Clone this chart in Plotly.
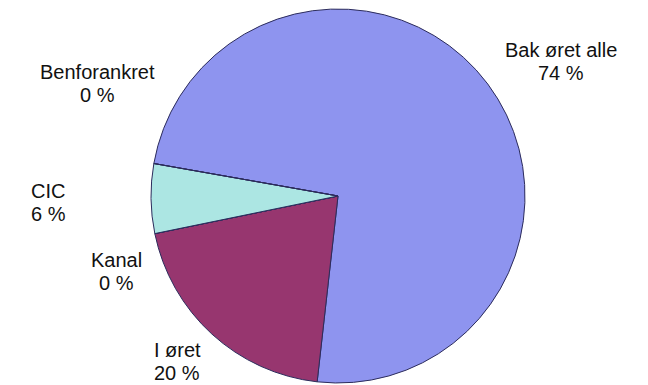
import plotly.graph_objects as go

# page body has an 8px margin; build the figure for the visible area
OFF = 8
W, H = 648 - OFF, 385 - OFF

# data
categories = ["Bak øret alle", "I øret", "Kanal", "CIC", "Benforankret"]
shares = [74, 20, 0, 6, 0]
slice_colors = ["#8e94ef", "#97366f", "#6a2a55", "#ace6e3", "#8e94ef"]

# label placement (pixel centres of the two text lines), layout only
label_pos = [(561, 50), (177, 350), (116, 260), (48, 191), (97, 72)]
LINE_GAP = 23

# pie geometry in pixels (page coordinates)
cx, cy, r = 338, 196, 187


def px_x(x):
    return min(max((x - OFF) / W, 0), 1)


def px_y(y):
    return min(max(1 - (y - OFF) / H, 0), 1)


fig = go.Figure(go.Pie(
    labels=categories,
    values=shares,
    sort=False,
    direction="clockwise",
    rotation=280,
    textinfo="none",
    hoverinfo="label+percent",
    marker=dict(colors=slice_colors, line=dict(color="#2c2c5c", width=1)),
    domain=dict(x=[px_x(cx - r), px_x(cx + r)],
                y=[px_y(cy + r), px_y(cy - r)]),
    showlegend=False,
))

font = dict(family="Liberation Sans, Arial, sans-serif", size=20, color="#111111")
for name, val, (px, py) in zip(categories, shares, label_pos):
    for txt, yy in ((name, py), (f"{val} %", py + LINE_GAP)):
        fig.add_annotation(
            x=px_x(px), y=px_y(yy), xref="paper", yref="paper",
            text=txt, showarrow=False,
            xanchor="center", yanchor="middle", align="center",
            font=font,
        )

fig.update_layout(
    width=W, height=H,
    margin=dict(l=0, r=0, t=0, b=0),
    paper_bgcolor="white", plot_bgcolor="white",
)

fig.write_html("out.html")
